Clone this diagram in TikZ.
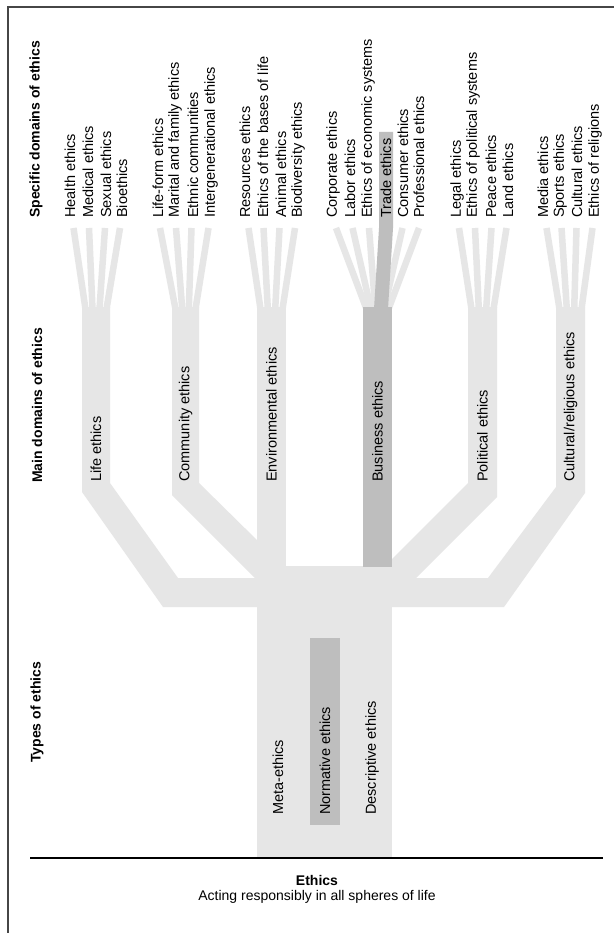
\documentclass[tikz,border=0pt]{standalone}
\usepackage{fontspec}
\setmainfont{Liberation Sans}
\definecolor{lightg}{RGB}{230,230,230}
\definecolor{darkg}{RGB}{190,190,190}
\definecolor{framec}{RGB}{70,70,70}
\begin{document}
\begin{tikzpicture}[x=1pt,y=-1pt,
  lab/.style={rotate=90,anchor=west,inner sep=0pt,font=\fontsize{14.5}{17}\selectfont},
  ttl/.style={rotate=90,anchor=west,inner sep=0pt,font=\fontsize{14}{17}\selectfont\bfseries},
  fork/.style={draw=lightg,line width=6.5pt,line cap=butt},
  lightfill/.style={fill=lightg,draw=none},
  darkfill/.style={fill=darkg,draw=none}]
\useasboundingbox (0,0) rectangle (614,933);
\fill[white] (0,0) rectangle (614,933);
% frame
\draw[framec,line width=1.6pt] (8,933) -- (8,7) -- (614,7);
% forks
\foreach \t/\b in {73.5/85.5,89/92.5,105/99.5,120/106.5,
                   160/175.5,176/182.2,191.5/188.8,208.5/195.5,
                   248.5/260.5,263.5/267.8,279.5/275.2,295/282.5,
                   336/366.5,352.5/370.9,369/375.3,386/379.7,402.5/384.1,419/388.5,
                   459/471.5,475/478.8,491.5/486.2,506.5/493.5,
                   546.5/559.5,561.5/566.8,576.5/574.2,592.5/581.5}
  \draw[fork] (\t,228) -- (\b,309);
% outer branches and bar
\fill[lightfill] (82,307) -- (82,492) -- (163,607) -- (504,607) -- (585,493) -- (585,307)
  -- (556,307) -- (556,487) -- (488,578) -- (178,578) -- (110,483) -- (110,307) -- cycle;
% community
\fill[lightfill] (172,307) -- (172,495) -- (260,583) -- (260,543) -- (199,483) -- (199,307) -- cycle;
% political
\fill[lightfill] (468,307) -- (468,483) -- (390,561) -- (390,595) -- (399,595) -- (497,497) -- (497,307) -- cycle;
% trunk and environmental column
\fill[lightfill] (257,566) rectangle (392,858);
\fill[lightfill] (257,307) rectangle (286,567);
% business column and trade band
\fill[darkfill] (363,307) rectangle (392,567);
\fill[darkfill] (379,132) -- (393,132) -- (393,228) -- (388,309) -- (374,309) -- (379,228) -- cycle;
% normative box
\fill[darkfill] (310,638) rectangle (340,825);
% bottom line
\draw[black,line width=1.5pt] (30,858) -- (603,858);
% titles
\node[ttl] (tspec) at (36,218) {Specific domains of ethics};
\node[ttl] (tmain) at (37,483) {Main domains of ethics};
\node[ttl] (ttypes) at (37,763) {Types of ethics};
% specific domains
\node[lab] (s1) at (70,218) {Health ethics};
\node[lab] (s2) at (88,218) {Medical ethics};
\node[lab] (s3) at (106,218) {Sexual ethics};
\node[lab] (s4) at (122,218) {Bioethics};
\node[lab] (s5) at (158,218) {Life-form ethics};
\node[lab] (s6) at (175,218) {Marital and family ethics};
\node[lab] (s7) at (193,218) {Ethnic communities};
\node[lab] (s8) at (211,218) {Intergenerational ethics};
\node[lab] (s9) at (245,218) {Resources ethics};
\node[lab] (s10) at (263,218) {Ethics of the bases of life};
\node[lab] (s11) at (281,218) {Animal ethics};
\node[lab] (s12) at (298,218) {Biodiversity ethics};
\node[lab] (s13) at (333,218) {Corporate ethics};
\node[lab] (s14) at (350,218) {Labor ethics};
\node[lab] (s15) at (368,218) {Ethics of economic systems};
\node[lab] (s16) at (386,218) {Trade ethics};
\node[lab] (s17) at (403,218) {Consumer ethics};
\node[lab] (s18) at (419,218) {Professional ethics};
\node[lab] (s19) at (457,218) {Legal ethics};
\node[lab] (s20) at (473,218) {Ethics of political systems};
\node[lab] (s21) at (491,218) {Peace ethics};
\node[lab] (s22) at (508,218) {Land ethics};
\node[lab] (s23) at (543,218) {Media ethics};
\node[lab] (s24) at (560,218) {Sports ethics};
\node[lab] (s25) at (577,218) {Cultural ethics};
\node[lab] (s26) at (595,218) {Ethics of religions};
% main domains
\node[lab] (m1) at (96,482) {Life ethics};
\node[lab] (m2) at (185.5,482) {Community ethics};
\node[lab] (m3) at (271.5,482) {Environmental ethics};
\node[lab] (m4) at (377.5,482) {Business ethics};
\node[lab] (m5) at (482.5,482) {Political ethics};
\node[lab] (m6) at (570.5,482) {Cultural/religious ethics};
% types
\node[lab] (y1) at (278,815) {Meta-ethics};
\node[lab] (y2) at (325,815) {Normative ethics};
\node[lab] (y3) at (372,815) {Descriptive ethics};
% bottom
\node[inner sep=0pt,font=\fontsize{14}{17}\selectfont\bfseries] (eth) at (317,880) {Ethics};
\node[inner sep=0pt,font=\fontsize{14}{17}\selectfont] (sub) at (317,897) {Acting responsibly in all spheres of life};
\end{tikzpicture}
\end{document}
